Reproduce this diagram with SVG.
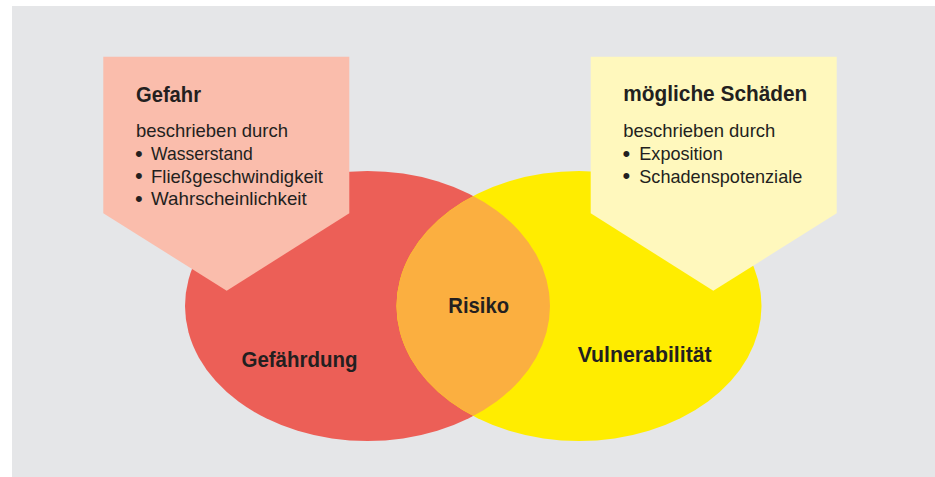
<svg xmlns="http://www.w3.org/2000/svg" width="935" height="477" viewBox="0 0 935 477">
  <style>
    .title { font-family: "Liberation Sans", Arial, sans-serif; font-weight: bold; font-size: 22.5px; fill: #231f20; }
    .body { font-family: "Liberation Sans", Arial, sans-serif; font-size: 19px; fill: #231f20; }
    .dot { font-size: 22px; }
  </style>
  <defs>
    <clipPath id="clip-vuln">
      <ellipse cx="579" cy="306" rx="182.5" ry="135"/>
    </clipPath>
  </defs>

  <!-- backdrop -->
  <rect x="12" y="6" width="923" height="471" fill="#e5e6e8"/>

  <!-- overlapping ellipses -->
  <g id="gefaehrdung">
    <ellipse cx="367.5" cy="306" rx="182.5" ry="135" fill="#ec5f57"/>
    <text class="title" x="241.5" y="367.3" textLength="116" lengthAdjust="spacingAndGlyphs">Gefährdung</text>
  </g>
  <g id="vulnerabilitaet">
    <ellipse cx="579" cy="306" rx="182.5" ry="135" fill="#ffed00"/>
    <text class="title" x="577.7" y="361.7" textLength="134" lengthAdjust="spacingAndGlyphs">Vulnerabilität</text>
  </g>
  <g id="risiko">
    <ellipse cx="367.5" cy="306" rx="182.5" ry="135" fill="#fbaf40" clip-path="url(#clip-vuln)"/>
    <text class="title" x="448.3" y="313.3" textLength="60.7" lengthAdjust="spacingAndGlyphs">Risiko</text>
  </g>

  <!-- callout: hazard -->
  <g id="gefahr">
    <polygon points="103.3,56.7 349.3,56.7 349.3,213.3 226.7,290.7 103.3,213.3" fill="#fabdac"/>
    <text class="title" x="136" y="101.7" textLength="65" lengthAdjust="spacingAndGlyphs">Gefahr</text>
    <text class="body" x="136" y="137.3" textLength="152" lengthAdjust="spacingAndGlyphs">beschrieben durch</text>
    <text class="body"><tspan class="dot" x="135" y="160.5">•</tspan><tspan x="151" y="160" textLength="101.7" lengthAdjust="spacingAndGlyphs">Wasserstand</tspan></text>
    <text class="body"><tspan class="dot" x="135" y="183.2">•</tspan><tspan x="151" y="182.7" textLength="172" lengthAdjust="spacingAndGlyphs">Fließgeschwindigkeit</tspan></text>
    <text class="body"><tspan class="dot" x="135" y="205.8">•</tspan><tspan x="151" y="205.3" textLength="155.7" lengthAdjust="spacingAndGlyphs">Wahrscheinlichkeit</tspan></text>
  </g>

  <!-- callout: possible damages -->
  <g id="schaeden">
    <polygon points="590.7,56.7 836.7,56.7 836.7,213.3 713.3,290.7 590.7,213.3" fill="#fff8bd"/>
    <text class="title" x="623.3" y="100.7" textLength="184" lengthAdjust="spacingAndGlyphs">mögliche Schäden</text>
    <text class="body" x="623.3" y="137.3" textLength="152" lengthAdjust="spacingAndGlyphs">beschrieben durch</text>
    <text class="body"><tspan class="dot" x="622.5" y="160.5">•</tspan><tspan x="639.3" y="160" textLength="83.4" lengthAdjust="spacingAndGlyphs">Exposition</tspan></text>
    <text class="body"><tspan class="dot" x="622.5" y="183.2">•</tspan><tspan x="639.3" y="182.7" textLength="163" lengthAdjust="spacingAndGlyphs">Schadenspotenziale</tspan></text>
  </g>

  <g id="connectors"/>
</svg>
